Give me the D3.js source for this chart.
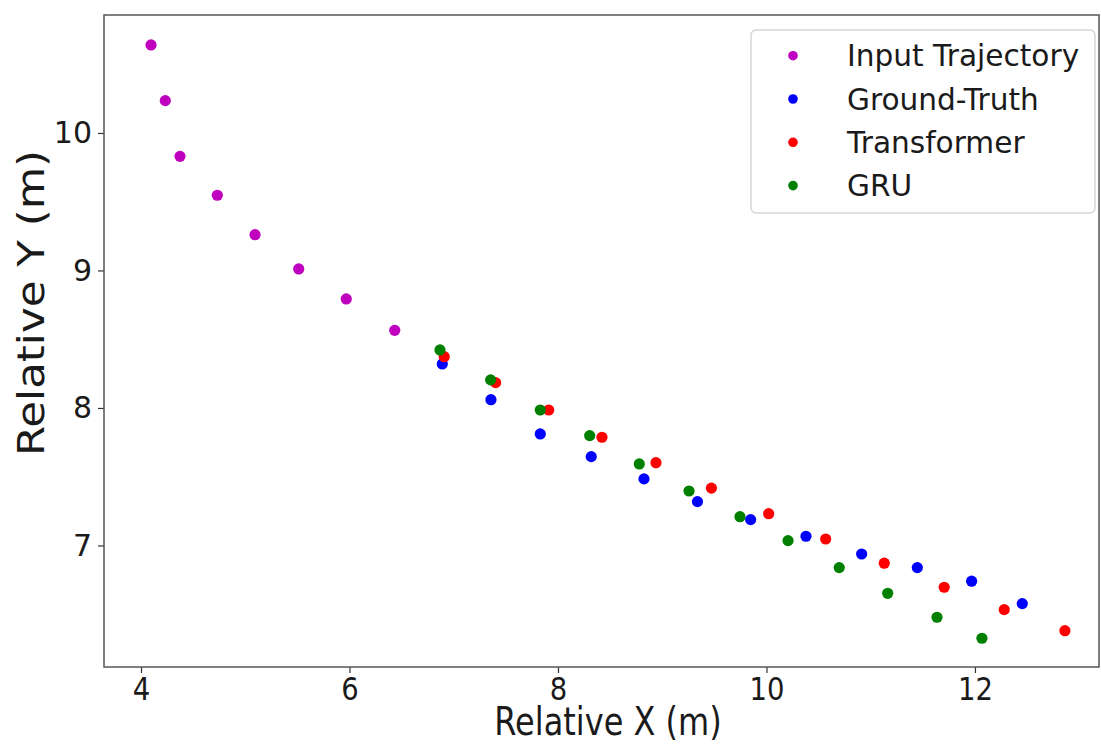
<!DOCTYPE html>
<html>
<head>
<meta charset="utf-8">
<script src="https://cdn.jsdelivr.net/npm/d3@7"></script>
<style>
  body { margin: 0; background: #fff; }
  text { font-family: "DejaVu Sans", sans-serif; fill: #1a1a1a; }
</style>
</head>
<body>
<svg id="chart" width="1101" height="744"></svg>
<script>
const seriesNames = ["Input Trajectory", "Ground-Truth", "Transformer", "GRU"];
const seriesColors = ["#bf00bf", "#0000ff", "#ff0000", "#008000"];

const inputX = [4.096, 4.233, 4.374, 4.732, 5.094, 5.513, 5.969, 6.434];
const inputY = [10.64, 10.235, 9.83, 9.547, 9.26, 9.011, 8.793, 8.565];

const truthX = [6.890, 7.357, 7.830, 8.319, 8.825, 9.338, 9.848, 10.379, 10.913, 11.447, 11.968, 12.454];
const truthY = [8.320, 8.060, 7.811, 7.646, 7.484, 7.319, 7.188, 7.067, 6.938, 6.839, 6.740, 6.577];

const transX = [6.909, 7.402, 7.911, 8.422, 8.940, 9.472, 10.021, 10.568, 11.130, 11.705, 12.281, 12.863];
const transY = [8.373, 8.184, 7.985, 7.787, 7.602, 7.417, 7.231, 7.047, 6.871, 6.696, 6.533, 6.380];

const gruX = [6.868, 7.354, 7.830, 8.304, 8.780, 9.257, 9.746, 10.207, 10.698, 11.163, 11.636, 12.067];
const gruY = [8.422, 8.204, 7.985, 7.799, 7.593, 7.396, 7.209, 7.035, 6.839, 6.652, 6.478, 6.325];

const xTicks = [4, 6, 8, 10, 12];
const yTicks = [7, 8, 9, 10];
const xLabel = "Relative X (m)";
const yLabel = "Relative Y (m)";

const xDomain = [3.645, 13.19];
const yDomain = [6.116, 10.858];

const plotLeft = 104, plotRight = 1099, plotTop = 15, plotBottom = 667;

const svg = d3.select("#chart");
const x = d3.scaleLinear().domain(xDomain).range([plotLeft, plotRight]);
const y = d3.scaleLinear().domain(yDomain).range([plotBottom, plotTop]);

// axes
const xAxis = svg.append("g").attr("transform", `translate(0,${plotBottom})`)
  .call(d3.axisBottom(x).tickValues(xTicks).tickFormat(d3.format("d")).tickSize(6).tickPadding(6));
const yAxis = svg.append("g").attr("transform", `translate(${plotLeft},0)`)
  .call(d3.axisLeft(y).tickValues(yTicks).tickFormat(d3.format("d")).tickSize(6).tickPadding(6));
[xAxis, yAxis].forEach(g => {
  g.select(".domain").remove();
  g.selectAll(".tick line").attr("stroke", "#333").attr("stroke-width", 1.2);
  g.selectAll(".tick text").attr("fill", "#1a1a1a")
    .style("font-family", "'DejaVu Sans', sans-serif");
});
yAxis.selectAll(".tick text").attr("font-size", 30);
// x tick labels appear slightly taller than wide in the reference
xAxis.selectAll(".tick text").attr("font-size", 27.5)
  .attr("y", 0).attr("dy", 0)
  .attr("transform", "translate(0,33) scale(1,1.18)");

// frame
svg.append("rect").attr("x", plotLeft).attr("y", plotTop)
  .attr("width", plotRight - plotLeft).attr("height", plotBottom - plotTop)
  .attr("fill", "none").attr("stroke", "#555").attr("stroke-width", 1.5);

// labels
svg.append("text").attr("transform", "translate(608,735) scale(1,1.2)")
  .attr("text-anchor", "middle").attr("font-size", 32).text(xLabel);
svg.append("text").attr("transform", "translate(44,303) rotate(-90) scale(1.16,1)")
  .attr("text-anchor", "middle").attr("font-size", 37.5).text(yLabel);

// data
const series = [
  { xs: inputX, ys: inputY },
  { xs: truthX, ys: truthY },
  { xs: transX, ys: transY },
  { xs: gruX, ys: gruY }
];
series.forEach((s, i) => {
  const pts = s.xs.map((v, k) => [v, s.ys[k]]);
  svg.append("g").selectAll("circle").data(pts).join("circle")
    .attr("cx", d => x(d[0])).attr("cy", d => y(d[1]))
    .attr("r", 5.6).attr("fill", seriesColors[i]);
});

// legend
const lg = svg.append("g");
lg.append("rect").attr("x", 751).attr("y", 30).attr("width", 344).attr("height", 183)
  .attr("rx", 5).attr("fill", "#fff").attr("fill-opacity", 0.85)
  .attr("stroke", "#d6d6d6").attr("stroke-width", 1.5);
seriesNames.forEach((name, i) => {
  const cy = 55.7 + i * 43.3;
  lg.append("circle").attr("cx", 793).attr("cy", cy).attr("r", 4.8).attr("fill", seriesColors[i]);
  lg.append("text").attr("x", 847).attr("y", cy).attr("dy", "0.36em")
    .attr("font-size", 29.6).text(name);
});
</script>
</body>
</html>
